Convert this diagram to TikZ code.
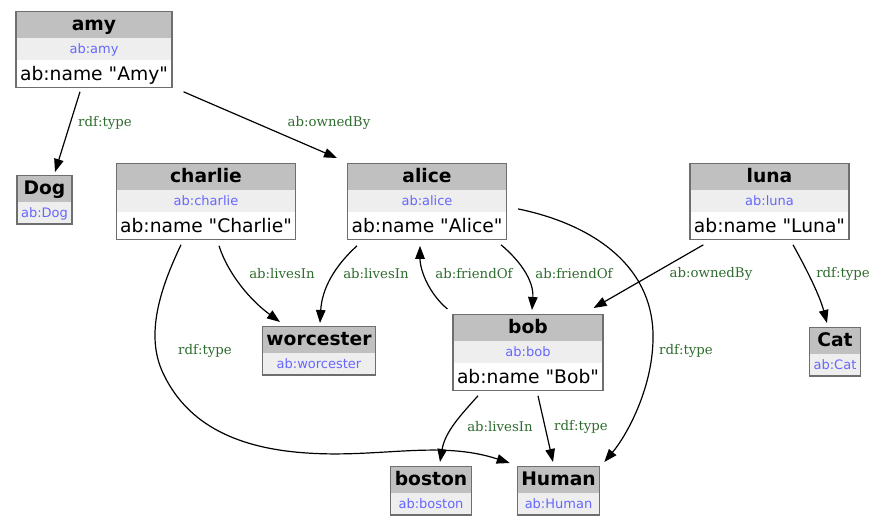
\documentclass[tikz,border=0pt]{standalone}
\usepackage{fontspec}
\usetikzlibrary{shapes.multipart,arrows.meta}
\newfontfamily\boxfont{DejaVu Sans}
\newfontfamily\relfont{DejaVu Serif}
\definecolor{hdrgray}{HTML}{C0C0C0}
\definecolor{irigray}{HTML}{EEEEEE}
\definecolor{iriblue}{HTML}{6666FF}
\definecolor{boxgray}{HTML}{6E6E6E}
\definecolor{relgreen}{HTML}{2E6B2E}
\newcommand{\reshead}[1]{\fontsize{18.7}{20}\boxfont\bfseries\rule[-7pt]{0pt}{25pt}#1}
\newcommand{\resiri}[1]{{\fontsize{13}{14}\boxfont\color{iriblue}\rule[-6pt]{0pt}{21pt}#1}}
\newcommand{\resname}[1]{\fontsize{18.7}{20}\boxfont\rule[-6pt]{0pt}{26pt}#1}
\begin{document}
\begin{tikzpicture}
        [x=1pt, y=-1pt,
        res3/.style={rectangle split, rectangle split parts=3, draw=boxgray, line width=1.2pt,
          rectangle split draw splits=false,
          rectangle split part fill={hdrgray,irigray,white}, inner xsep=4pt, inner ysep=0pt, anchor=north},
        res2/.style={rectangle split, rectangle split parts=2, draw=boxgray, line width=1.2pt,
          rectangle split draw splits=false,
          rectangle split part fill={hdrgray,irigray}, inner xsep=4pt, inner ysep=0pt, anchor=north},
        rel/.style={line width=1.2pt, -{Triangle[length=13pt,width=9.5pt]}},
        rellbl/.style={font={\fontsize{13.3}{14}\relfont}, text=relgreen, inner sep=1pt}]
        \useasboundingbox (0,0) rectangle (886,525);

        \node[res3] (amy) at (94,11) {\reshead{amy}\nodepart{two}\resiri{ab:amy}\nodepart{three}\resname{ab:name "Amy"}};
        \node[res2] (dog) at (44.5,175) {\reshead{Dog}\nodepart{two}\resiri{ab:Dog}};
        \node[res3] (charlie) at (206,163) {\reshead{charlie}\nodepart{two}\resiri{ab:charlie}\nodepart{three}\resname{ab:name "Charlie"}};
        \node[res3] (alice) at (427,163) {\reshead{alice}\nodepart{two}\resiri{ab:alice}\nodepart{three}\resname{ab:name "Alice"}};
        \node[res3] (luna) at (769.5,163) {\reshead{luna}\nodepart{two}\resiri{ab:luna}\nodepart{three}\resname{ab:name "Luna"}};
        \node[res2] (worcester) at (319,326) {\reshead{worcester}\nodepart{two}\resiri{ab:worcester}};
        \node[res3] (bob) at (528,314) {\reshead{bob}\nodepart{two}\resiri{ab:bob}\nodepart{three}\resname{ab:name "Bob"}};
        \node[res2] (cat) at (835,327) {\reshead{Cat}\nodepart{two}\resiri{ab:Cat}};
        \node[res2] (boston) at (431,466) {\reshead{boston}\nodepart{two}\resiri{ab:boston}};
        \node[res2] (human) at (558.5,466) {\reshead{Human}\nodepart{two}\resiri{ab:Human}};

        \draw[rel] ([shift={(-14,4)}]amy.south) -- ([shift={(10.5,-3)}]dog.north);
        \draw[rel] ([shift={(11,4)}]amy.south east) -- ([shift={(-10,-5)}]alice.north west);
        \draw[rel] ([shift={(13,6)}]charlie.south) .. controls +(9,28) and +(-30,-22) .. ([shift={(-39,-4)}]worcester.north);
        \draw[rel] ([shift={(-25,5)}]charlie.south) .. controls +(-21,44) and +(-18,-38) .. (163,373)
                   .. controls +(22,47) and +(-77,-5) .. (307,453)
                   .. controls +(73,5) and +(-70,-23) .. ([shift={(-7,-3)}]human.north west);
        \draw[rel] ([shift={(10,6)}]alice.south west) .. controls +(-22,20) and +(2,-35) .. ([shift={(1,-3)}]worcester.north);
        \draw[rel] ([shift={(-5,-5)}]bob.north west) .. controls +(-18,-15) and +(0,25) .. ([shift={(-7,6)}]alice.south);
        \draw[rel] ([shift={(-6,5)}]alice.south east) .. controls +(18,15) and +(2,-30) .. ([shift={(4,-4)}]bob.north);
        \draw[rel] ([shift={(11,7.5)}]alice.east) .. controls +(73,15) and +(2,-75) .. (653,340)
                   .. controls +(-1,50) and +(22,-26) .. ([shift={(4,-4)}]human.north east);
        \draw[rel] ([shift={(14,5)}]luna.south west) -- ([shift={(-10,-6)}]bob.north east);
        \draw[rel] ([shift={(23.5,5)}]luna.south) .. controls +(10,18) and +(-8,-30) .. ([shift={(-8,-4)}]cat.north);
        \draw[rel] ([shift={(-50,5)}]bob.south) .. controls +(-18,20) and +(5,-30) .. ([shift={(9,-4)}]boston.north);
        \draw[rel] ([shift={(10,5)}]bob.south) -- ([shift={(-5.5,-4)}]human.north);

        \node[rellbl] (lamydog) at (105,123) {rdf:type};
        \node[rellbl] (lamyalice) at (329,123) {ab:ownedBy};
        \node[rellbl] (lcharliew) at (282,274) {ab:livesIn};
        \node[rellbl] (lalicew) at (376,274) {ab:livesIn};
        \node[rellbl] (lbobalice) at (474,274) {ab:friendOf};
        \node[rellbl] (lalicebob) at (574,274) {ab:friendOf};
        \node[rellbl] (llunabob) at (711,274) {ab:ownedBy};
        \node[rellbl] (llunacat) at (843,274) {rdf:type};
        \node[rellbl] (lcharlieh) at (205,351) {rdf:type};
        \node[rellbl] (laliceh) at (686,351) {rdf:type};
        \node[rellbl] (lbobb) at (500,427) {ab:livesIn};
        \node[rellbl] (lbobh) at (581,427) {rdf:type};

\end{tikzpicture}
\end{document}
